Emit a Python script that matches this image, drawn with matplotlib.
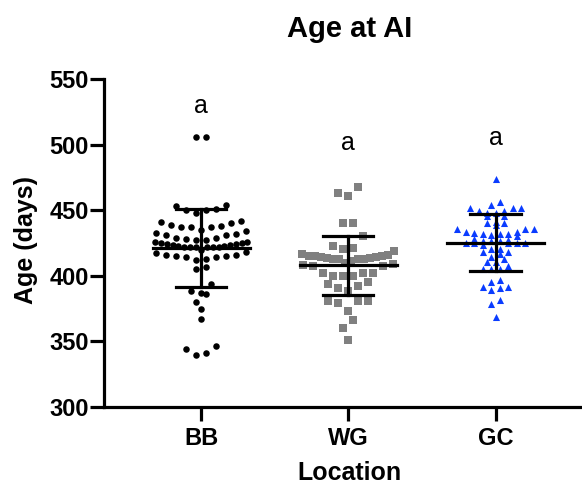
import numpy as np
import matplotlib
matplotlib.use("Agg")
import matplotlib.pyplot as plt

# ages (days), one list per location
bb_ages = [506, 506,
           453, 450, 448, 450, 451, 454,
           442, 440, 438, 437, 437, 437, 439, 441,
           434, 432, 431, 429, 429, 431, 433, 435,
           427, 426, 425, 424, 423.5, 423, 422, 422, 422, 422, 422, 422,
           423, 423.5, 424, 425, 426, 427, 428,
           418, 416, 415, 414, 413, 414.5, 412, 415, 416, 417.5, 419.5,
           407, 405, 394, 387, 386, 388.5, 380, 375, 367,
           344, 339.5, 341, 346.5]
wg_ages = [468, 461, 463, 440, 440, 430, 421.5, 419, 420.5, 422.5,
           415, 413.5, 413, 413, 412.5, 411.5, 415.5, 416.5, 415, 409,
           407.7, 407.5, 408, 409.5, 413, 413.5, 414, 414.5, 415,
           402, 402, 399.5, 399.5, 399.5, 402,
           393.5, 395, 388.5, 390.5, 392.5,
           381, 379.5, 381, 381, 373, 366, 360, 351]
gc_ages = [473.5, 456.5, 454, 451.5, 451.5, 451.5, 447.5, 449.5, 449.5, 447.5,
           445.5, 445.5, 440.5, 440.5, 441, 438.5, 435.5, 435.5, 435.5,
           433.5, 432.5, 431, 431.5, 431.5, 431.5, 433.5,
           430, 427.5, 426.5, 425, 425, 425, 423.5, 425, 425, 426.5, 426.5, 428,
           420.5, 418.5, 414.5, 416.5, 418.5, 420.5, 410.5, 410.5, 412.5,
           407.5, 405.5, 405.5, 405.5, 395.5, 397, 391.5, 389.5, 390.5, 391.5,
           381.5, 378.5, 369]

locations = ["BB", "WG", "GC"]
means = [421.2, 408.0, 425.3]
sds = [30.0, 22.4, 21.6]
letters = ["a", "a", "a"]
letter_y = [529, 501, 505]

groups = [bb_ages, wg_ages, gc_ages]
colors = ["black", "#808080", "#0A3CFF"]
markers = ["o", "s", "^"]
sizes = [22, 26, 26]
row_h = [7.0, 9.5, 4.5]     # row height in days
step_px = [10.0, 10.0, 8.5]  # horizontal spacing in pixels
half_w = [46.0, 46.0, 46.0]  # max half-width of a row in pixels

plt.rcParams["font.family"] = ["Liberation Sans", "DejaVu Sans"]

fig = plt.figure(figsize=(5.82, 4.87), dpi=100)
ax = fig.add_axes([0.179, 0.164, 0.819, 0.674])
ax.set_xlim(-0.66, 2.58)
ax.set_ylim(300, 550)


def row_swarm(vals, xc, h, step, hw):
    # group sorted values into rows, spread each row sideways (lowest in middle)
    vals = np.asarray(vals, float)
    order = np.argsort(-vals)
    rows, cur = [], [order[0]]
    for i in order[1:]:
        if vals[cur[0]] - vals[i] <= h:
            cur.append(i)
        else:
            rows.append(cur)
            cur = [i]
    rows.append(cur)
    x0 = ax.transData.transform((xc, 0))[0]
    xs = np.zeros(len(vals))
    for r in rows:
        r = sorted(r, key=lambda i: vals[i])
        n = len(r)
        sp = step if n < 2 else min(step, 2 * hw / (n - 1))
        slots = (np.arange(n) - (n - 1) / 2) * sp
        slots = sorted(slots, key=lambda s: (abs(s), s))
        # alternate sides for equal distances
        for j, i in enumerate(r):
            xs[i] = slots[j] if j % 2 == 0 or n % 2 == 1 else slots[j]
    px = np.column_stack([x0 + xs, np.zeros(len(vals))])
    return ax.transData.inverted().transform(px)[:, 0]


for k, vals in enumerate(groups):
    xk = row_swarm(vals, k, row_h[k], step_px[k], half_w[k])
    ax.scatter(xk, vals, s=sizes[k], marker=markers[k], color=colors[k],
               linewidths=0, zorder=2)
    m, sd = means[k], sds[k]
    ax.plot([k - 0.33, k + 0.33], [m, m], color="black", lw=2.3, zorder=3)
    ax.plot([k - 0.17, k + 0.17], [m + sd, m + sd], color="black", lw=2.3, zorder=3)
    ax.plot([k - 0.17, k + 0.17], [m - sd, m - sd], color="black", lw=2.3, zorder=3)
    ax.plot([k, k], [m - sd, m + sd], color="black", lw=2.3, zorder=3)
    ax.text(k, letter_y[k], letters[k], ha="center", va="center", fontsize=18)

ax.spines["top"].set_visible(False)
ax.spines["right"].set_visible(False)
for s in ["left", "bottom"]:
    ax.spines[s].set_linewidth(2.3)

ax.set_yticks([300, 350, 400, 450, 500, 550])
ax.set_xticks([0, 1, 2])
ax.set_xticklabels(locations)
ax.tick_params(axis="both", width=2.3, length=10, labelsize=17)
ax.tick_params(axis="y", pad=1)
ax.tick_params(axis="x", pad=4)
for lab in ax.get_xticklabels() + ax.get_yticklabels():
    lab.set_fontweight("bold")

fig.text(0.6, 1 - 37 / 487, "Age at AI", ha="center", va="baseline",
         fontsize=21, fontweight="bold")
fig.text(26 / 582, 1 - 240 / 487, "Age (days)", rotation=90, ha="center",
         va="center", fontsize=18, fontweight="bold")
fig.text(349 / 582, 1 - 473 / 487, "Location", ha="center", va="center",
         fontsize=18, fontweight="bold")

fig.savefig("out.png", dpi=100)
